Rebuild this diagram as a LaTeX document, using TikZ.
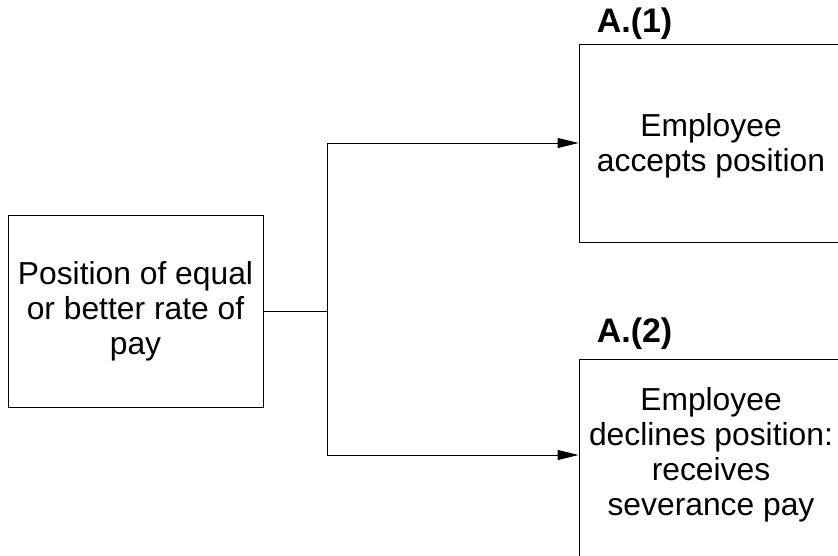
\documentclass[tikz,border=0pt]{standalone}
\usepackage{fontspec}
\setmainfont{Liberation Sans}
\usetikzlibrary{arrows.meta}

\begin{document}
\begin{tikzpicture}[x=1pt,y=-1pt,
    box/.style={draw,line width=0.9pt,inner sep=0pt,align=center,
      font=\fontsize{31.8}{35}\selectfont},
    tag/.style={font=\fontsize{34}{38}\selectfont\bfseries,inner sep=0pt,anchor=base west},
    link/.style={line width=0.9pt},
    arr/.style={link,-{Triangle[length=21pt,width=10pt]}}]
  \useasboundingbox (0,0) rectangle (838,556);
  % the offer
  \node[box,minimum width=255pt,minimum height=192pt] (offer) at (135.5,311)
    {Position of equal\\or better rate of\\pay};
  % outcome (1)
  \node[box,minimum width=264pt,minimum height=198pt] (accept) at (711,143)
    {};
  \node[box,draw=none] (accepttext) at (711,146) {Employee\\accepts position};
  \node[tag] (tagone) at ([xshift=18pt,yshift=11pt]accept.north west) {A.(1)};
  % outcome (2), runs off the page
  \node[box,minimum width=264pt,minimum height=220pt] (decline) at (711,469) {};
  \node[box,draw=none] (declinetext) at (711,455)
    {Employee\\declines position:\\receives\\severance pay};
  \node[tag] (tagtwo) at ([xshift=18pt,yshift=16pt]decline.north west) {A.(2)};
  % connectors
  \coordinate (split) at (327,311);
  \draw[link] (offer.east) -- (split);
  \draw[arr] (split) |- (accept.west);
  \draw[arr] (split) |- (decline.west |- declinetext);
\end{tikzpicture}
\end{document}
